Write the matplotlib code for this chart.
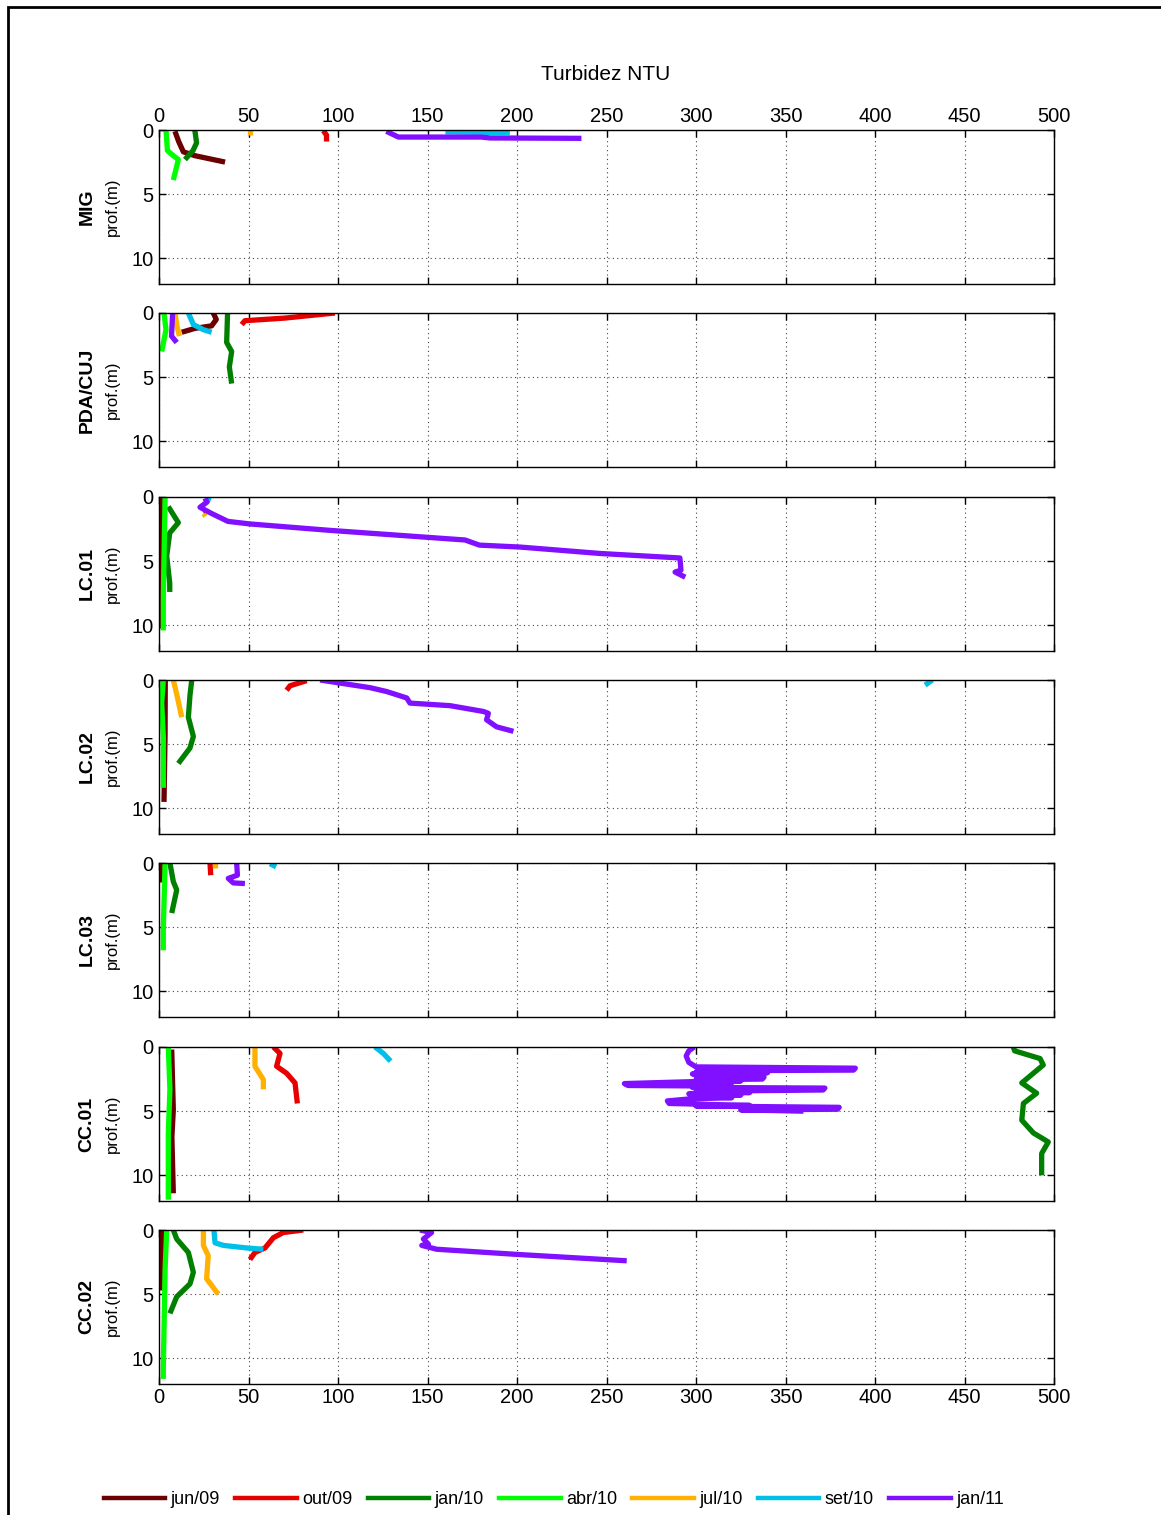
import matplotlib.pyplot as plt
import matplotlib.patches as patches
from matplotlib.lines import Line2D

plt.rcParams['font.family'] = ['Liberation Sans', 'DejaVu Sans']

# profiles: (turbidity NTU, depth m)
stations = ['MIG', 'PDA/CUJ', 'LC.01', 'LC.02', 'LC.03', 'CC.01', 'CC.02']
months = ['jun/09', 'out/09', 'jan/10', 'abr/10', 'jul/10', 'set/10', 'jan/11']
colors = ['#6B0000', '#E60000', '#007F00', '#00FF00', '#FFB000', '#00C0E8', '#8010FF']

# MIG
mig_jun09 = [(8.9, 0.1), (11, 0.9), (13.6, 1.7), (20, 2.0), (36.9, 2.5)]
mig_out09 = [(91.8, 0.05), (93.6, 0.4), (93.6, 0.9)]
mig_jan10 = [(20, 0.0), (21, 1.0), (19, 1.6), (14.5, 2.3)]
mig_abr10 = [(3.9, 0.0), (4.7, 1.6), (8, 2.0), (10.8, 2.3), (8, 3.9)]
mig_jul10 = [(51, 0.0), (51, 0.4)]
mig_set10 = [(160, 0.15), (196, 0.2)]
mig_jan11 = [(127, 0.1), (133.7, 0.55), (180, 0.55), (185, 0.62), (236, 0.65)]

# PDA/CUJ
pda_jun09 = [(30.3, 0.0), (32, 0.5), (29.4, 1.0), (20, 1.2), (12.7, 1.5)]
pda_out09 = [(46.2, 0.9), (48, 0.6), (70, 0.4), (98.3, 0.0)]
pda_jan10 = [(38.3, 0.0), (37.8, 2.3), (40.6, 3.0), (39.3, 4.2), (40.6, 5.5)]
pda_abr10 = [(2.8, 0.0), (3.9, 1.3), (1.5, 3.0)]
pda_jul10 = [(9, 0.0), (10, 1.0), (11.4, 1.8)]
pda_set10 = [(16.4, 0.0), (19.2, 0.9), (24.8, 1.3), (29.4, 1.5)]
pda_jan11 = [(7.6, 0.0), (7, 1.8), (9.9, 2.3)]

# LC.01
lc01_jun09 = [(1, 0.0), (1, 10.2)]
lc01_out09 = [(26, 1.0), (26.5, 1.3)]
lc01_jan10 = [(5.2, 0.75), (10.8, 2.0), (6, 2.8), (4.3, 4.6), (6, 6.7), (6, 7.4)]
lc01_abr10 = [(3.4, 0.0), (2.4, 8.0), (2.4, 10.4)]
lc01_jul10 = [(25, 1.3), (26, 1.5)]
lc01_set10 = [(28, 0.0), (27, 0.4)]
lc01_jan11 = [(25.7, 0.1), (26.8, 0.4), (22.9, 0.8), (29.6, 1.3), (38.5, 1.9), (50.8, 2.1),
              (95.5, 2.6), (145.8, 3.1), (171, 3.35), (179, 3.75), (201.7, 3.9), (246.4, 4.4),
              (291, 4.75), (291.6, 5.7), (288.3, 5.85), (294, 6.25)]

# LC.02
lc02_jun09 = [(3.5, 0.0), (3.4, 4.2), (2.8, 9.5)]
lc02_out09 = [(71.3, 0.8), (73.2, 0.45), (82.5, 0.05)]
lc02_jan10 = [(18.3, 0.0), (17.3, 1.2), (16.4, 2.9), (19.2, 4.4), (17.3, 5.3), (10.8, 6.5)]
lc02_abr10 = [(2.4, 0.0), (1.5, 1.8), (2.4, 4.4), (2.4, 8.4)]
lc02_jul10 = [(8, 0.0), (9.9, 1.1), (12.7, 2.9)]
lc02_set10 = [(432, 0.0), (428, 0.4)]
lc02_jan11 = [(90, 0.0), (99.3, 0.2), (118, 0.6), (127.2, 0.9), (138.4, 1.4), (140.2, 1.8),
              (162.6, 2.0), (181.2, 2.45), (184, 2.6), (183, 3.1), (188.6, 3.65), (198, 4.0)]

# LC.03
lc03_jun09 = [(1.1, 0.0), (1.1, 1.45)]
lc03_out09 = [(28.5, 0.0), (28.9, 0.95)]
lc03_jan10 = [(6.1, 0.0), (8, 1.45), (9.9, 2.1), (7.1, 3.9)]
lc03_abr10 = [(3.4, 0.0), (2.4, 5.2), (2.4, 6.8)]
lc03_jul10 = [(31.3, 0.0), (31.3, 0.4)]
lc03_set10 = [(62, 0.05), (65.4, 0.3)]
lc03_jan11 = [(43.4, 0.0), (43.8, 0.95), (38.7, 1.2), (41.5, 1.55), (48, 1.6)]

# CC.01
cc01_jun09 = [(7.1, 0.2), (8, 4.9), (7.2, 7.0), (8, 11.4)]
cc01_out09 = [(63.9, 0.0), (67.6, 0.5), (65.7, 1.5), (71.3, 2.05), (76, 2.8), (77.3, 4.4)]
cc01_jan10 = [(477.3, 0.0), (478, 0.3), (492.2, 0.9), (494, 1.4), (482, 2.8), (490.3, 3.6),
              (482.9, 4.4), (482, 5.7), (488.5, 6.7), (496.8, 7.4), (493.1, 8.3), (493.1, 10.0)]
cc01_abr10 = [(5.2, 0.0), (6.1, 3.3), (5.2, 6.7), (5.2, 11.9)]
cc01_jul10 = [(53.6, 0.0), (53.6, 1.5), (58.3, 2.55), (58.3, 3.3)]
cc01_set10 = [(120.7, 0.0), (125.3, 0.5), (129.4, 1.1)]
cc01_jan11 = [(299, 0.0), (296, 0.3), (294.5, 0.7), (296, 1.2), (300, 1.55), (389, 1.65),
              (388, 1.8), (310, 1.85), (300, 1.95), (340, 2.0), (298, 2.1), (330, 2.15),
              (300, 2.25), (338, 2.35), (337, 2.5), (300, 2.55), (325, 2.65), (298, 2.7),
              (260, 2.85), (262, 3.0), (320, 3.05), (298, 3.15), (372, 3.2), (371, 3.35),
              (300, 3.45), (330, 3.55), (296, 3.65), (325, 3.75), (298, 3.85), (320, 3.95),
              (296, 4.05), (284, 4.2), (285, 4.4), (300, 4.45), (330, 4.55), (300, 4.6),
              (380, 4.7), (379, 4.85), (325, 4.9), (360, 5.0)]

# CC.02
cc02_jun09 = [(1.5, 0.0), (1.5, 3.2), (1.5, 4.7)]
cc02_out09 = [(80.6, 0.0), (69.4, 0.2), (63.9, 0.6), (59.2, 1.4), (53.6, 1.75), (50.8, 2.3)]
cc02_jan10 = [(8, 0.0), (9.9, 0.7), (16.4, 1.75), (19.2, 3.3), (17.3, 4.2), (9.9, 5.2), (6.1, 6.5)]
cc02_abr10 = [(4.3, 0.0), (3.4, 3.1), (2.4, 10.8), (2.4, 11.6)]
cc02_jul10 = [(24.8, 0.0), (24.8, 1.2), (27.5, 2.0), (26.6, 3.8), (33.1, 5.0)]
cc02_set10 = [(30.7, 0.0), (31.3, 1.0), (36, 1.2), (49, 1.4), (58.3, 1.5)]
cc02_jan11 = [(145.8, 0.0), (152.3, 0.2), (147.7, 0.7), (150.5, 1.1), (146.8, 1.2), (155.1, 1.5),
              (199.8, 1.9), (261.3, 2.4)]

profiles = [
    [mig_jun09, mig_out09, mig_jan10, mig_abr10, mig_jul10, mig_set10, mig_jan11],
    [pda_jun09, pda_out09, pda_jan10, pda_abr10, pda_jul10, pda_set10, pda_jan11],
    [lc01_jun09, lc01_out09, lc01_jan10, lc01_abr10, lc01_jul10, lc01_set10, lc01_jan11],
    [lc02_jun09, lc02_out09, lc02_jan10, lc02_abr10, lc02_jul10, lc02_set10, lc02_jan11],
    [lc03_jun09, lc03_out09, lc03_jan10, lc03_abr10, lc03_jul10, lc03_set10, lc03_jan11],
    [cc01_jun09, cc01_out09, cc01_jan10, cc01_abr10, cc01_jul10, cc01_set10, cc01_jan11],
    [cc02_jun09, cc02_out09, cc02_jan10, cc02_abr10, cc02_jul10, cc02_set10, cc02_jan11],
]

W, H = 1161, 1515
fig = plt.figure(figsize=(W / 100, H / 100), dpi=100)

# outer frame
fig.patches.append(patches.Rectangle((8 / W, -0.01), 1.1, (H - 7) / H + 0.01,
                                     transform=fig.transFigure, fill=False,
                                     edgecolor='black', linewidth=2))

tops = [130, 313, 497, 680, 863, 1047, 1230]
ax_h = 154
left, right = 159, 1054

for i, top in enumerate(tops):
    ax = fig.add_axes([left / W, 1 - (top + ax_h) / H, (right - left) / W, ax_h / H])
    for j, prof in enumerate(profiles[i]):
        xs = [p[0] for p in prof]
        ds = [p[1] for p in prof]
        ax.plot(xs, ds, color=colors[j], linewidth=3.8, solid_capstyle='butt')
    ax.set_xlim(0, 500)
    ax.set_ylim(12, 0)
    ax.set_xticks(range(0, 501, 50))
    ax.set_yticks([0, 5, 10])
    ax.grid(True, linestyle=(0, (1, 3)), color='#444444', linewidth=0.8)
    ax.tick_params(direction='in', length=5, width=1, labelsize=14.5, pad=4,
                   top=True, right=True, bottom=True, left=True)
    ax.tick_params(axis='x', labelbottom=(i == len(tops) - 1), labeltop=(i == 0), pad=3)
    for s in ax.spines.values():
        s.set_linewidth(1)
    # two-line y label: bold station name + depth unit
    yc = 1 - (top + ax_h / 2) / H
    fig.text(87 / W, yc, stations[i], rotation=90, ha='center', va='center',
             fontsize=14, fontweight='bold')
    fig.text(112 / W, yc, 'prof.(m)', rotation=90, ha='center', va='center', fontsize=12)

fig.text(606 / W, 1 - 74 / H, 'Turbidez NTU', ha='center', va='center', fontsize=15)

handles = [Line2D([0], [0], color=c, linewidth=3.2) for c in colors]
fig.legend(handles, months, loc='center', bbox_to_anchor=(0.477, 1 - 1500 / H), ncol=7,
           frameon=False, fontsize=13, handlelength=3.4, handletextpad=0.3,
           columnspacing=0.85)

fig.savefig('out.png', dpi=100)
